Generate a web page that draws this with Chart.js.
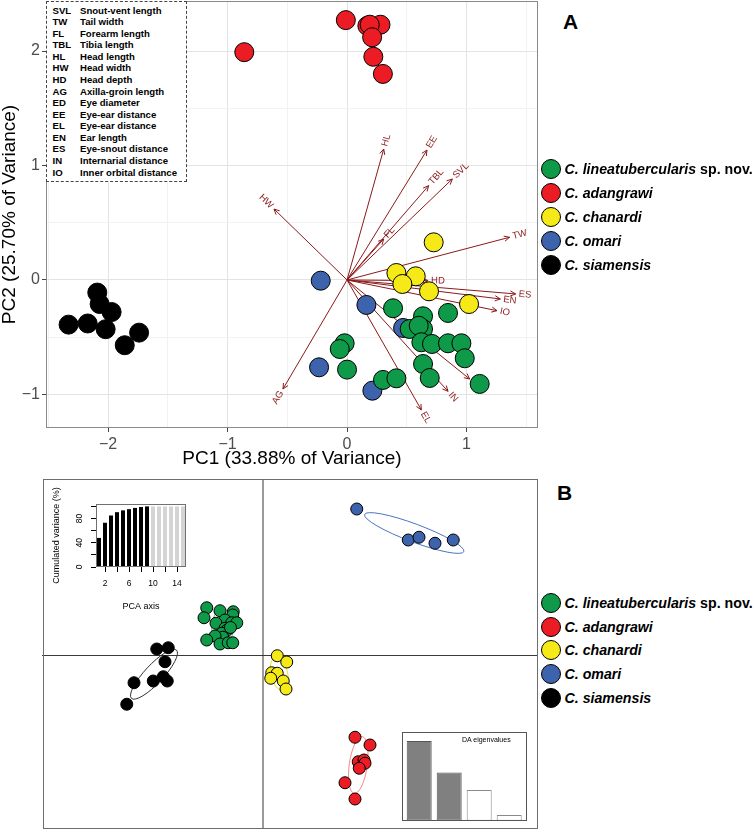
<!DOCTYPE html>
<html><head><meta charset="utf-8">
<script src="https://cdn.jsdelivr.net/npm/chart.js@4.4.0/dist/chart.umd.min.js"></script>
<style>
html,body{margin:0;padding:0;background:#fff;}
body{width:756px;height:829px;position:relative;overflow:hidden;font-family:"Liberation Sans",Arial,Helvetica,sans-serif;}
canvas{position:absolute;}
.t{position:absolute;white-space:nowrap;color:#000;}
</style></head><body>
<canvas id="pca" width="545" height="478" style="left:0;top:0"></canvas>
<canvas id="da" width="496" height="350" style="left:42px;top:479px"></canvas>
<canvas id="cum" width="150" height="135" style="left:46px;top:482px"></canvas>
<canvas id="eig" width="130" height="93" style="left:400px;top:730px"></canvas>
<div id="overlay"></div>
<script>
// ---------- DATA ----------
const speciesNames = ['C. lineatubercularis','C. adangrawi','C. chanardi','C. omari','C. siamensis'];
const speciesSuffix = [' sp. nov.','','','',''];
const speciesColors = ['#0e9a48','#ec1c24','#f5ea17','#3d63ad','#000000'];

// PCA scores (panel A)
const linX = [0.385,0.636,0.845,0.524,0.636,0.600,0.622,0.711,0.845,0.957,0.985,0.636,0.692,1.110,-0.020,-0.061,0.000,0.301,0.413];
const linY = [-0.247,-0.317,-0.288,-0.428,-0.428,-0.400,-0.544,-0.559,-0.553,-0.553,-0.684,-0.734,-0.856,-0.908,-0.553,-0.603,-0.783,-0.873,-0.859];
const adaX = [-0.01,-0.86,0.17,0.28,0.19,0.21,0.22,0.30];
const adaY = [2.27,1.99,2.22,2.23,2.23,2.12,1.95,1.80];
const chaX = [0.725,0.413,0.575,0.463,0.686,1.021];
const chaY = [0.329,0.061,0.032,-0.035,-0.099,-0.210];
const omaX = [-0.220,0.162,0.469,-0.234,0.212];
const omaY = [-0.006,-0.218,-0.419,-0.763,-0.967];
const siaX = [-2.09,-2.07,-1.97,-2.33,-2.17,-2.02,-1.74,-1.86];
const siaY = [-0.11,-0.21,-0.28,-0.39,-0.38,-0.43,-0.46,-0.57];

// PCA loadings (arrows)
const loadNames = ['SVL','TW','FL','TBL','HL','HW','HD','AG','ED','EE','EL','EN','ES','IN','IO'];
const loadX = [0.881,1.36,0.307,0.683,0.307,-0.611,0.678,-0.536,1.026,0.669,0.622,1.283,1.411,0.845,1.255];
const loadY = [0.882,0.373,0.358,0.824,1.144,0.620,-0.006,-0.952,-0.865,1.135,-1.135,-0.166,-0.122,-0.972,-0.268];

// abbreviations legend
const abbrevCodes = ['SVL','TW','FL','TBL','HL','HW','HD','AG','ED','EE','EL','EN','ES','IN','IO'];
const abbrevNames = ['Snout-vent length','Tail width','Forearm length','Tibia length','Head length','Head width','Head depth','Axilla-groin length','Eye diameter','Eye-ear distance','Eye-ear distance','Ear length','Eye-snout distance','Internarial distance','Inner orbital distance'];

// axis ticks panel A
const pcaXTicks = [-2.5,-2,-1.5,-1,-0.5,0,0.5,1,1.5];
const pcaYTicks = [-1,-0.5,0,0.5,1,1.5,2];

// DA scores (panel B)
const daLinX = [-2.25,-1.72,-1.19,-1.21,-2.36,-1.52,-1.88,-1.25,-1.05,-1.52,-1.43,-1.65,-1.61,-1.92,-2.25,-1.72,-1.39,-1.21,-1.30];
const daLinY = [1.89,1.77,1.73,1.60,1.49,1.40,1.27,1.29,1.29,1.07,1.00,0.87,0.71,0.76,0.60,0.44,0.49,0.49,1.10];
const daAdaX = [3.68,4.28,3.81,4.04,4.08,3.85,3.28,3.68];
const daAdaY = [-3.29,-3.60,-4.27,-4.20,-4.33,-4.53,-5.11,-5.76];
const daChaX = [0.57,0.95,0.35,0.57,0.31,0.81,0.92];
const daChaY = [-0.03,-0.28,-0.71,-0.73,-0.93,-1.04,-1.36];
const daOmaX = [3.75,5.81,6.24,6.88,7.61];
const daOmaY = [5.84,4.60,4.71,4.47,4.60];
const daSiaX = [-4.25,-3.79,-3.92,-5.16,-4.39,-3.99,-3.83,-5.45];
const daSiaY = [0.24,0.29,-0.27,-1.11,-1.04,-0.87,-1.04,-1.97];

// inertia ellipses (green, red, yellow, blue, black)
const ellCX = [-1.61,3.81,0.65,6.05,-4.36];
const ellCY = [1.13,-4.40,-0.76,4.88,-0.77];
const ellA = [0.70,1.15,0.67,2.12,1.32];
const ellB = [0.45,0.36,0.34,0.36,0.37];
const ellAngle = [88,82,103,-20.5,47];
const ellColors = ['#5fbf80','#f28a8a','#e9df3a','#4a74c4','#333333'];

// inset: cumulated variance
const pcaAxis = [1,2,3,4,5,6,7,8,9,10,11,12,13,14,15];
const cumVariance = [48,73,85,90.5,93.5,95.5,97.5,99,100,100,100,100,100,100,100];
const retainedAxes = 9;
const cumYTicks = [0,20,40,60,80,100];
const cumYLabels = [0,40,80];
const cumXLabels = [2,6,10,14];

// inset: DA eigenvalues
const daAxis = [1,2,3,4];
const daEigen = [100,60.6,38.5,7.1];
const daRetained = 2;

// ---------- HELPERS ----------
const FAM = '"Liberation Sans", Arial, Helvetica, sans-serif';
const ARROW = '#8b1a1a';
const isInt = v => Math.abs(v - Math.round(v)) < 1e-9;
const fmt = v => v < 0 ? '\u2212' + Math.abs(v) : String(v);
const pts = (xs, ys) => xs.map((v, i) => ({x: v, y: ys[i]}));
const whiteBg = {id:'whiteBg', beforeDraw(c){const x=c.ctx;x.save();x.fillStyle='#fff';x.fillRect(0,0,c.width,c.height);x.restore();}};
const noPad = s => { s.paddingTop = 0; s.paddingBottom = 0; s.paddingLeft = 0; s.paddingRight = 0; };

// ---------- PANEL A ----------
const pcaDecor = {
  id: 'pcaDecor',
  beforeDatasetsDraw(chart) {
    const {ctx, scales: {x, y}} = chart;
    const ox = x.getPixelForValue(0), oy = y.getPixelForValue(0);
    ctx.save();
    ctx.strokeStyle = ARROW; ctx.fillStyle = ARROW; ctx.lineWidth = 1;
    loadNames.forEach((n, i) => {
      const px = x.getPixelForValue(loadX[i]), py = y.getPixelForValue(loadY[i]);
      const ang = Math.atan2(py - oy, px - ox);
      const L = 6, sp = Math.PI / 7;
      ctx.beginPath();
      ctx.moveTo(px - L * Math.cos(ang - sp), py - L * Math.sin(ang - sp));
      ctx.lineTo(px, py);
      ctx.lineTo(px - L * Math.cos(ang + sp), py - L * Math.sin(ang + sp));
      ctx.stroke();
      ctx.save();
      ctx.font = '9.5px ' + FAM;
      ctx.textBaseline = 'middle';
      ctx.translate(px + 3 * Math.cos(ang), py + 3 * Math.sin(ang));
      if (Math.cos(ang) >= 0) { ctx.rotate(ang); ctx.textAlign = 'left'; }
      else { ctx.rotate(ang + Math.PI); ctx.textAlign = 'right'; }
      ctx.fillText(n, 0, 0);
      ctx.restore();
    });
    ctx.restore();
  },
  afterDraw(chart) {
    const {ctx, chartArea: a} = chart;
    ctx.save(); ctx.strokeStyle = '#8a8a8a'; ctx.lineWidth = 1;
    ctx.strokeRect(a.left + 0.5, a.top + 0.5, a.right - a.left - 1, a.bottom - a.top - 1);
    ctx.restore();
  }
};
const ptDs = (xs, ys, col, order, r) => ({data: pts(xs, ys), backgroundColor: col, borderColor: '#000', borderWidth: 1, pointRadius: r, pointHoverRadius: r, order});
const arrowDs = loadNames.map((n, i) => ({data: [{x: 0, y: 0}, {x: loadX[i], y: loadY[i]}], showLine: true, borderColor: ARROW, borderWidth: 1, pointRadius: 0, order: 20}));

new Chart(document.getElementById('pca'), {
  type: 'scatter',
  data: {datasets: [
    ptDs(linX, linY, speciesColors[0], 1, 9.5),
    ptDs(adaX, adaY, speciesColors[1], 3, 9.5),
    ptDs(chaX, chaY, speciesColors[2], 3, 9.5),
    ptDs(omaX, omaY, speciesColors[3], 2, 9.5),
    ptDs(siaX, siaY, speciesColors[4], 3, 9.5),
    ...arrowDs
  ]},
  options: {
    responsive: false, animation: false, devicePixelRatio: 1,
    layout: {autoPadding: false, padding: {top: 1, right: 7, left: 0, bottom: 0}},
    plugins: {legend: {display: false}, tooltip: {enabled: false}},
    scales: {
      x: {type: 'linear', min: -2.519, max: 1.598,
        afterBuildTicks: s => { s.ticks = pcaXTicks.map(v => ({value: v})); },
        afterFit: s => { s.height = 50; noPad(s); },
        grid: {color: c => isInt(c.tick.value) ? '#e3e3e3' : '#f2f2f2', lineWidth: 1, tickLength: 4,
               tickColor: c => isInt(c.tick.value) ? '#444' : 'rgba(0,0,0,0)'},
        border: {display: false},
        ticks: {callback: v => isInt(v) ? fmt(v) : '', font: {size: 16, family: FAM}, color: '#4d4d4d', padding: 3, maxRotation: 0, autoSkip: false},
        title: {display: true, text: 'PC1 (33.88% of Variance)', font: {size: 19, family: FAM, lineHeight: 1}, color: '#000', padding: {top: 0, bottom: 9.5}}
      },
      y: {type: 'linear', min: -1.293, max: 2.437,
        afterBuildTicks: s => { s.ticks = pcaYTicks.map(v => ({value: v})); },
        afterFit: s => { s.width = 46; noPad(s); },
        grid: {color: c => isInt(c.tick.value) ? '#e3e3e3' : '#f2f2f2', lineWidth: 1, tickLength: 4,
               tickColor: c => isInt(c.tick.value) ? '#444' : 'rgba(0,0,0,0)'},
        border: {display: false},
        ticks: {callback: v => isInt(v) ? fmt(v) : '', font: {size: 16, family: FAM}, color: '#4d4d4d', padding: 2, autoSkip: false},
        title: {display: true, text: 'PC2 (25.70% of Variance)', font: {size: 19, family: FAM, lineHeight: 1}, color: '#000', padding: {top: 0, bottom: 0}}
      }
    }
  },
  plugins: [whiteBg, pcaDecor]
});

// ---------- PANEL B ----------
const daDecor = {
  id: 'daDecor',
  beforeDatasetsDraw(chart) {
    const {ctx, scales: {x, y}} = chart;
    ctx.save(); ctx.lineWidth = 1;
    ellCX.forEach((cx, i) => {
      const px = x.getPixelForValue(cx), py = y.getPixelForValue(ellCY[i]);
      const ra = Math.abs(x.getPixelForValue(cx + ellA[i]) - px);
      const rb = Math.abs(x.getPixelForValue(cx + ellB[i]) - px);
      ctx.strokeStyle = ellColors[i];
      ctx.beginPath();
      ctx.ellipse(px, py, ra, rb, -ellAngle[i] * Math.PI / 180, 0, 2 * Math.PI);
      ctx.stroke();
    });
    ctx.restore();
  },
  afterDraw(chart) {
    const {ctx} = chart;
    ctx.save(); ctx.strokeStyle = '#6e6e6e'; ctx.lineWidth = 1;
    ctx.strokeRect(1.5, 0.5, 494, 349);
    ctx.restore();
  }
};
new Chart(document.getElementById('da'), {
  type: 'scatter',
  data: {datasets: [
    ptDs(daLinX, daLinY, speciesColors[0], 1, 6),
    ptDs(daAdaX, daAdaY, speciesColors[1], 1, 6),
    ptDs(daChaX, daChaY, speciesColors[2], 1, 6),
    ptDs(daOmaX, daOmaY, speciesColors[3], 1, 6),
    ptDs(daSiaX, daSiaY, speciesColors[4], 1, 6)
  ]},
  options: {
    responsive: false, animation: false, devicePixelRatio: 1,
    layout: {autoPadding: false, padding: 0},
    plugins: {legend: {display: false}, tooltip: {enabled: false}},
    scales: {
      x: {type: 'linear', min: -8.84, max: 11.0,
        afterBuildTicks: s => { s.ticks = [{value: 0}]; },
        afterFit: s => { s.height = 0; noPad(s); },
        grid: {color: '#9a9a9a', lineWidth: 2, drawTicks: false},
        border: {display: false}, ticks: {display: false}},
      y: {type: 'linear', min: -6.96, max: 7.04,
        afterBuildTicks: s => { s.ticks = [{value: 0}]; },
        afterFit: s => { s.width = 0; noPad(s); },
        grid: {color: '#3a3a3a', lineWidth: 1, drawTicks: false},
        border: {display: false}, ticks: {display: false}}
    }
  },
  plugins: [whiteBg, daDecor]
});

// ---------- INSET: cumulated variance ----------
const cumDecor = {
  id: 'cumDecor',
  afterDraw(chart) {
    const {ctx, chartArea: a, scales: {y}} = chart;
    ctx.save();
    ctx.strokeStyle = '#707070'; ctx.lineWidth = 1;
    ctx.strokeRect(a.left + 0.5, a.top + 0.5, a.right - a.left - 1, a.bottom - a.top - 1);
    ctx.fillStyle = '#000'; ctx.font = '8.5px ' + FAM;
    ctx.textAlign = 'center'; ctx.textBaseline = 'middle';
    cumYLabels.forEach(v => {
      ctx.save();
      ctx.translate(a.left - 16.5, y.getPixelForValue(v));
      ctx.rotate(-Math.PI / 2);
      ctx.fillText(String(v), 0, 0);
      ctx.restore();
    });
    ctx.restore();
  }
};
new Chart(document.getElementById('cum'), {
  type: 'bar',
  data: {labels: pcaAxis, datasets: [{data: cumVariance,
    backgroundColor: pcaAxis.map(i => i <= retainedAxes ? '#000' : '#d4d4d4'),
    borderWidth: 0, barPercentage: 0.67, categoryPercentage: 1}]},
  options: {
    responsive: false, animation: false, devicePixelRatio: 1,
    layout: {autoPadding: false, padding: {top: 22, right: 10, left: 0, bottom: 0}},
    plugins: {legend: {display: false}, tooltip: {enabled: false}},
    scales: {
      x: {afterFit: s => { s.height = 50; noPad(s); },
        grid: {offset: false, drawOnChartArea: false, tickLength: 5,
               tickColor: c => (c.index % 2 === 1) ? '#000' : 'rgba(0,0,0,0)'},
        border: {display: false},
        ticks: {autoSkip: false, maxRotation: 0, minRotation: 0,
                callback: (v, i) => cumXLabels.includes(pcaAxis[i]) ? String(pcaAxis[i]) : '',
                font: {size: 8.5, family: FAM}, color: '#000', padding: 7},
        title: {display: true, text: 'PCA axis', font: {size: 9, family: FAM, lineHeight: 1.2}, color: '#000', padding: {top: 0, bottom: 4.6}}},
      y: {min: 0, max: 104,
        afterBuildTicks: s => { s.ticks = cumYTicks.map(v => ({value: v})); },
        afterFit: s => { s.width = 50; noPad(s); },
        grid: {drawOnChartArea: false, tickLength: 5, tickColor: '#000'},
        border: {display: false},
        ticks: {display: false},
        title: {display: true, text: 'Cumulated variance (%)', font: {size: 9, family: FAM, lineHeight: 1.2}, color: '#000', padding: {top: 5.6, bottom: 0}}}
    }
  },
  plugins: [cumDecor]
});

// ---------- INSET: DA eigenvalues ----------
const eigDecor = {
  id: 'eigDecor',
  beforeDraw(chart) {
    const {ctx} = chart;
    ctx.save(); ctx.fillStyle = '#fff'; ctx.fillRect(2.5, 2.5, 124, 88); ctx.restore();
  },
  afterDraw(chart) {
    const {ctx} = chart;
    ctx.save(); ctx.strokeStyle = '#555'; ctx.lineWidth = 1;
    ctx.strokeRect(2.5, 2.5, 124, 88); ctx.restore();
  }
};
new Chart(document.getElementById('eig'), {
  type: 'bar',
  data: {labels: daAxis, datasets: [{data: daEigen,
    backgroundColor: daAxis.map(i => i <= daRetained ? '#808080' : '#ffffff'),
    borderColor: daAxis.map(i => i <= daRetained ? '#555555' : '#8a8a8a'),
    borderWidth: 1, borderSkipped: false, barPercentage: 0.833, categoryPercentage: 1}]},
  options: {
    responsive: false, animation: false, devicePixelRatio: 1,
    layout: {autoPadding: false, padding: {left: 4.2, right: 5.8, top: 2.7, bottom: 2.3}},
    plugins: {legend: {display: false}, tooltip: {enabled: false}},
    scales: {x: {display: false}, y: {display: false, min: 0, max: 110.4}}
  },
  plugins: [eigDecor]
});

// ---------- HTML TEXT OVERLAYS ----------
const ov = document.getElementById('overlay');
function addText(html, left, centerY, size, extra) {
  const d = document.createElement('div');
  d.className = 't';
  d.style.left = left + 'px';
  d.style.top = (centerY - 0.4885 * size) + 'px';
  d.style.fontSize = size + 'px';
  d.style.lineHeight = size + 'px';
  if (extra) Object.assign(d.style, extra);
  d.innerHTML = html;
  ov.appendChild(d);
  return d;
}
// abbreviation box
const box = document.createElement('div');
Object.assign(box.style, {position: 'absolute', left: '46px', top: '1px', width: '139px', height: '179px', border: '1px dashed #444', background: '#fff'});
ov.appendChild(box);
abbrevCodes.forEach((c, i) => {
  const cy = 10.3 + i * 11.57;
  addText(c, 52.5, cy, 9.6, {fontWeight: 'bold'});
  addText(abbrevNames[i], 80, cy, 9.6, {fontWeight: 'bold'});
});
// panel letters
addText('A', 563, 21, 21, {fontWeight: 'bold'});
addText('B', 557, 492, 21, {fontWeight: 'bold'});
// DA eigenvalues title
addText('DA eigenvalues', 462, 739.5, 7);
// species legends
function legend(y0, step) {
  speciesNames.forEach((n, i) => {
    const cy = y0 + i * step;
    const c = document.createElement('div');
    Object.assign(c.style, {position: 'absolute', left: '540.5px', top: (cy - 10) + 'px', width: '18px', height: '18px', borderRadius: '50%', border: '1px solid #000', background: speciesColors[i]});
    ov.appendChild(c);
    addText('<i>' + n + '</i>' + speciesSuffix[i], 564.5, cy, 14.2, {fontWeight: 'bold'});
  });
}
legend(168.6, 24.1);
legend(602.6, 23.9);
</script>
</body></html>
